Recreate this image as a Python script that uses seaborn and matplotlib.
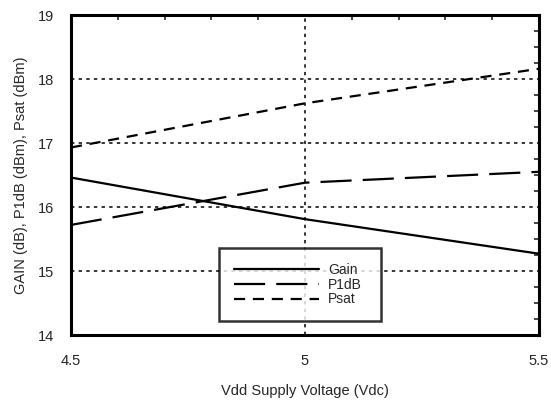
import matplotlib
matplotlib.use("Agg")
import matplotlib.pyplot as plt
from matplotlib.ticker import MultipleLocator
import pandas as pd
import seaborn as sns

# datos
vdd = [4.5, 5.0, 5.5]
gain = [16.46, 15.81, 15.27]
p1db = [15.72, 16.38, 16.55]
psat = [16.93, 17.62, 18.16]

sns.set_style("white")
plt.rcParams["font.family"] = ["Liberation Sans", "DejaVu Sans"]

df = pd.DataFrame({
    "vdd": vdd * 3,
    "valor": gain + p1db + psat,
    "serie": ["Gain"] * 3 + ["P1dB"] * 3 + ["Psat"] * 3,
})

fig = plt.figure(figsize=(5.51, 4.0), dpi=100)
ax = fig.add_axes([71 / 551, 1 - 335 / 400, 468 / 551, 320 / 400])

estilos = {"Gain": None, "P1dB": (14, 5), "Psat": (5, 3.5)}
for nombre, grupo in df.groupby("serie"):
    sns.lineplot(data=grupo, x="vdd", y="valor", ax=ax, color="black",
                 linewidth=1.6, label=nombre)
    if estilos[nombre] is not None:
        ax.lines[-1].set_dashes(estilos[nombre])

ax.set_xlim(4.5, 5.5)
ax.set_ylim(14, 19)
ax.set_xticks([4.5, 5, 5.5])
ax.set_xticklabels(["4.5", "5", "5.5"])
ax.set_yticks([14, 15, 16, 17, 18, 19])
ax.xaxis.set_minor_locator(MultipleLocator(0.1))
ax.yaxis.set_minor_locator(MultipleLocator(0.25))
ax.tick_params(which="both", direction="in", top=True, right=True,
               length=3.5, width=1.2, labelsize=10.5)
ax.tick_params(which="major", length=0)
ax.tick_params(axis="x", which="major", pad=14)
ax.tick_params(axis="y", which="major", pad=12)

# rejilla punteada
for yv in [15, 16, 17, 18]:
    ax.axhline(yv, color="black", lw=1.1, dashes=(2.2, 2.8), zorder=0)
ax.axvline(5, color="black", lw=1.1, dashes=(2.2, 2.8), zorder=0)

for s in ax.spines.values():
    s.set_linewidth(2.2)
    s.set_color("black")

ax.set_xlabel("Vdd Supply Voltage (Vdc)", fontsize=10.5, labelpad=11)
ax.set_ylabel("GAIN (dB), P1dB (dBm), Psat (dBm)", fontsize=10.5, labelpad=7)

leg = ax.legend(loc="lower left", bbox_to_anchor=(148 / 468, 14 / 320, 162 / 468, 73 / 320),
                mode="expand", frameon=True, fancybox=False, fontsize=10,
                handlelength=6.15, handletextpad=0.65, labelspacing=0.05,
                borderpad=1.05, borderaxespad=0)
leg.get_frame().set_edgecolor("black")
leg.get_frame().set_linewidth(1.8)
for h in leg.get_lines():
    h.set_linewidth(1.6)

fig.savefig("out.png", dpi=100)
